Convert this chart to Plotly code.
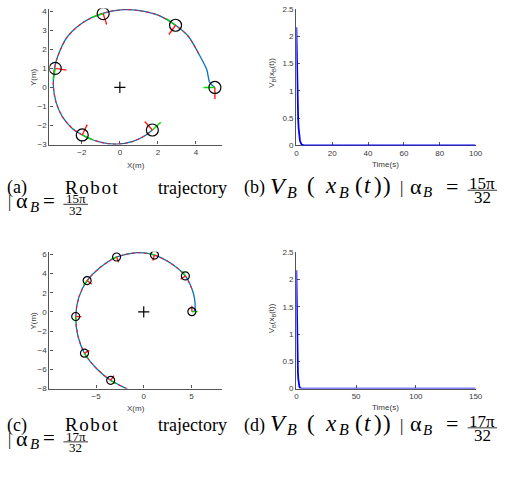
import math
import plotly.graph_objects as go

W, H = 506, 494

# ---------------- data ----------------
# (a) trajectory, alpha_B = 15pi/32
traj_a_x = [5.0, 4.73, 4.57, 4.13, 3.62, 2.93, 2.07, 1.03, 0.17, -0.86, -1.9, -2.76,
            -3.27, -3.45, -3.5, -3.36, -3.02, -2.5, -1.98, -1.03, -0.17, 0.69, 1.38, 1.71]
traj_a_y = [0.0, 0.26, 0.94, 1.80, 2.66, 3.26, 3.77, 4.03, 4.08, 3.90, 3.43, 2.66,
            1.63, 0.94, 0.09, -0.77, -1.54, -2.15, -2.49, -2.87, -2.97, -2.83, -2.49, -2.23]
ref_a_start = 3
pose_a_x = [5.0, 2.93, -0.88, -3.40, -1.98, 1.71]
pose_a_y = [0.0, 3.26, 3.87, 1.00, -2.49, -2.23]
pose_a_th = [180, 144, 198, 261, 334, 42]

# (c) trajectory, alpha_B = 17pi/32
traj_c_x = [5.05, 5.33, 5.33, 5.05, 4.37, 2.99, 1.13, -0.62, -2.85, -4.57, -5.94, -6.8,
            -7.14, -6.9, -6.22, -4.91, -3.47, -1.82, -1.2]
traj_c_y = [0.03, 0.1, 1.4, 2.42, 3.75, 4.98, 5.93, 6.18, 5.73, 4.64, 3.27, 1.57,
            -0.48, -2.53, -4.31, -5.95, -7.14, -8.0, -8.3]
ref_c_start = 3
pose_c_x = [5.05, 4.37, 1.13, -2.85, -5.94, -7.14, -6.22, -3.47]
pose_c_y = [0.03, 3.75, 5.93, 5.73, 3.27, -0.48, -4.31, -7.14]
pose_c_th = [0, 125, 162, 201, 234, 269, 300, 326]

# (b) Lyapunov value
t_b = [0, 0.2, 0.4, 0.6, 0.8, 1.0, 1.3, 1.6, 2.0, 2.5, 3.0, 4, 10, 30, 60, 100]
v_b = [2.17, 1.62, 1.2, 0.88, 0.65, 0.48, 0.3, 0.18, 0.09, 0.04, 0.015, 0.005, 0, 0, 0, 0]
# (d)
t_d = [0, 0.2, 0.4, 0.6, 0.8, 1.0, 1.3, 1.6, 2.0, 2.5, 3.0, 4, 10, 50, 100, 150]
v_d = [2.17, 1.62, 1.2, 0.88, 0.65, 0.48, 0.3, 0.18, 0.09, 0.04, 0.015, 0.005, 0, 0, 0, 0]

ticks_a_x = [-2, 0, 2, 4]
ticks_a_y = [-3, -2, -1, 0, 1, 2, 3, 4]
ticks_c_x = [-5, 0, 5]
ticks_c_y = [-8, -6, -4, -2, 0, 2, 4, 6]
ticks_b_x = [0, 20, 40, 60, 80, 100]
ticks_d_x = [0, 50, 100, 150]
ticks_v_y = [0, 0.5, 1, 1.5, 2, 2.5]

captions = [("(a)", "(b)", "15π"), ("(c)", "(d)", "17π")]

# ---------------- style ----------------
BLUE_T = "#0072BD"
AX = "#555555"
TICKFONT = dict(family="Liberation Sans, Arial", size=8, color="#3a3a3a")
SERIF = "Liberation Serif, Times New Roman"
SANS = "Liberation Sans, Arial"
ARM = 0.6


def px(x):
    return x / W


def py(y):
    return 1 - y / H


fig = go.Figure()


def add_traj(xs, ys, ref_start, pxs, pys, ths, xa, ya, msize):
    fig.add_trace(go.Scatter(x=xs, y=ys, mode="lines", xaxis=xa, yaxis=ya,
                             line=dict(color=BLUE_T, width=1.3, shape="spline", smoothing=0.8),
                             hoverinfo="skip", showlegend=False))
    fig.add_trace(go.Scatter(x=xs[ref_start:], y=ys[ref_start:], mode="lines", xaxis=xa, yaxis=ya,
                             line=dict(color="#e8202a", width=1.1, dash="dot", shape="spline", smoothing=0.8),
                             hoverinfo="skip", showlegend=False))
    gx, gy, rx, ry = [], [], [], []
    for x0, y0, th in zip(pxs, pys, ths):
        a = math.radians(th)
        gx += [x0, x0 + ARM * math.cos(a), None]
        gy += [y0, y0 + ARM * math.sin(a), None]
        rx += [x0, x0 - ARM * math.sin(a), None]
        ry += [y0, y0 + ARM * math.cos(a), None]
    fig.add_trace(go.Scatter(x=gx, y=gy, mode="lines", xaxis=xa, yaxis=ya,
                             line=dict(color="#00e000", width=1.4), hoverinfo="skip", showlegend=False))
    fig.add_trace(go.Scatter(x=rx, y=ry, mode="lines", xaxis=xa, yaxis=ya,
                             line=dict(color="#ff1a1a", width=1.4), hoverinfo="skip", showlegend=False))
    fig.add_trace(go.Scatter(x=pxs, y=pys, mode="markers", xaxis=xa, yaxis=ya,
                             marker=dict(symbol="circle-open", size=msize, color="black",
                                         line=dict(width=1.2, color="black")),
                             hoverinfo="skip", showlegend=False))
    fig.add_trace(go.Scatter(x=[0], y=[0], mode="markers", xaxis=xa, yaxis=ya,
                             marker=dict(symbol="cross-thin", size=8, color="black",
                                         line=dict(width=1.2, color="black")),
                             hoverinfo="skip", showlegend=False))


add_traj(traj_a_x, traj_a_y, ref_a_start, pose_a_x, pose_a_y, pose_a_th, "x", "y", 12)
add_traj(traj_c_x, traj_c_y, ref_c_start, pose_c_x, pose_c_y, pose_c_th, "x3", "y3", 8)

fig.add_trace(go.Scatter(x=t_b, y=v_b, mode="lines", xaxis="x2", yaxis="y2",
                         line=dict(color="#0000ff", width=1.8), hoverinfo="skip", showlegend=False))
fig.add_trace(go.Scatter(x=t_d, y=v_d, mode="lines", xaxis="x4", yaxis="y4",
                         line=dict(color="#0000ff", width=1.8), hoverinfo="skip", showlegend=False))


def axis(dom, rng, ticks, anchor):
    return dict(domain=dom, range=rng, tickvals=ticks, ticks="inside", ticklen=3,
                tickwidth=1, tickcolor=AX, showline=True, linecolor=AX, linewidth=1.4,
                showgrid=False, zeroline=False, tickfont=TICKFONT, anchor=anchor,
                fixedrange=True, layer="below traces")


L1, R1 = 48.3, 224.0
L2, R2 = 299.7, 482.2

fig.update_layout(
    width=W, height=H, margin=dict(l=0, r=0, t=0, b=0),
    paper_bgcolor="white", plot_bgcolor="white", showlegend=False,
    xaxis=axis([px(L1), px(R1)], [(L1 - 120) / 19.35, (R1 - 120) / 19.35], ticks_a_x, "y"),
    yaxis=axis([py(143.3), py(4.7)], [-3, -3 + (143.3 - 4.7) / 19.43], ticks_a_y, "x"),
    xaxis2=axis([px(L2), px(R2)], [0, 100], ticks_b_x, "y2"),
    yaxis2=axis([py(144.0), py(5.3)], [0, 2.5], ticks_v_y, "x2"),
    xaxis3=axis([px(L1), px(R1)], [(L1 - 144.3) / 9.7, (R1 - 144.3) / 9.7], ticks_c_x, "y3"),
    yaxis3=axis([py(391.7), py(252.3)], [-8, -8 + (391.7 - 252.3) / 9.76], ticks_c_y, "x3"),
    xaxis4=axis([px(L2), px(R2)], [0, 150], ticks_d_x, "y4"),
    yaxis4=axis([py(391.7), py(253.0)], [0, 2.5], ticks_v_y, "x4"),
)

ann = []
shapes = []


def txt(x, y, s, size, family, xanchor="left", angle=0, color="black"):
    ann.append(dict(x=px(x), y=py(y), xref="paper", yref="paper", text=s, showarrow=False,
                    xanchor=xanchor, yanchor="middle", textangle=angle,
                    font=dict(size=size, family=family, color=color)))


def glyph(x, base, s, size, xanchor="left"):
    # place text so that its baseline sits at pixel row `base`
    txt(x, base - 0.335 * size, s, size, SERIF, xanchor)


# axis titles
txt(136, 164, "X(m)", 8, SANS, "center", color="#3a3a3a")
txt(32, 74, "Y(m)", 8, SANS, "center", angle=-90, color="#3a3a3a")
txt(390.5, 163, "Time(s)", 8, SANS, "center", color="#3a3a3a")
txt(275, 70, "V<sub>B</sub>(x<sub>B</sub>(t))", 8, SANS, "center", angle=-90, color="#3a3a3a")
txt(136, 412, "X(m)", 8, SANS, "center", color="#3a3a3a")
txt(32, 322, "Y(m)", 8, SANS, "center", angle=-90, color="#3a3a3a")
txt(390.5, 411, "Time(s)", 8, SANS, "center", color="#3a3a3a")
txt(275, 320, "V<sub>B</sub>(x<sub>B</sub>(t))", 8, SANS, "center", angle=-90, color="#3a3a3a")


def fraction(xc, bar, num, w, fs):
    glyph(xc, bar - 1.2, num, fs, "center")
    glyph(xc, bar + 0.72 * fs + 1, "32", fs, "center")
    shapes.append(dict(type="line", xref="paper", yref="paper", x0=px(xc - w / 2), x1=px(xc + w / 2),
                       y0=py(bar), y1=py(bar), line=dict(color="black", width=0.8)))


def caption(b, lab1, lab2, num):
    fs = 18
    glyph(3, b, lab1, fs)
    glyph(62, b, '<span style="letter-spacing:1.6px">Robot</span>', fs + 1)
    glyph(157, b, "trajectory", fs)
    glyph(244, b, lab2, fs)
    # V_B(x_B(t))
    glyph(271, b, "<i>V</i>", 24)
    glyph(288, b + 4, "<i>B</i>", 16)
    glyph(308, b, "(", 23)
    glyph(327, b, "<i>x</i>", 23)
    glyph(341, b + 4, "<i>B</i>", 16)
    glyph(357, b, "(", 23)
    glyph(367, b, "<i>t</i>", 23)
    glyph(377, b, ")", 23)
    glyph(386, b, ")", 23)
    glyph(403, b, "|", 17)
    glyph(413, b, "α", 22)
    glyph(427, b + 4, "<i>B</i>", 15)
    glyph(450, b, "=", 22)
    fraction(489, b - 3.3, num, 30, 17)
    b2 = b + 14.5
    glyph(4, b2, "|", 16)
    glyph(12, b2, "α", 22)
    glyph(26, b2 + 4, "<i>B</i>", 15)
    glyph(40, b2, "=", 21)
    fraction(75, b2 - 3.5, num, 25, 13)


caption(193, *captions[0])
caption(435, *captions[1])

fig.update_layout(annotations=ann, shapes=shapes)
fig.write_html("out.html")
